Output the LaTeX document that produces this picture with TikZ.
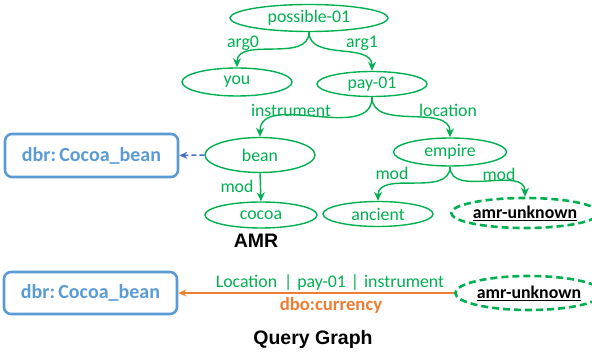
\documentclass[tikz,border=0pt]{standalone}
\usepackage{fontspec}
\setmainfont{Carlito}
\newfontfamily\arialfont{Liberation Sans}
\usetikzlibrary{shapes.geometric,arrows.meta}
\definecolor{amrgreen}{RGB}{0,176,80}
\definecolor{dbrblue}{RGB}{91,155,213}
\definecolor{linkblue}{RGB}{68,114,196}
\definecolor{qorange}{RGB}{237,125,49}
\tikzset{
  amrnode/.style={ellipse, draw=amrgreen, line width=1.4pt, text=amrgreen, inner sep=0pt,
    font=\fontsize{17.8}{20}\selectfont},
  unknownnode/.style={ellipse, draw=amrgreen, line width=2.6pt, dash pattern=on 7pt off 4pt,
    text=black, inner sep=0pt, font=\bfseries\fontsize{17.8}{20}\selectfont},
  dbrbox/.style={draw=dbrblue, rounded corners=7pt, line width=2.6pt, text=dbrblue,
    minimum width=173pt, minimum height=42pt, inner sep=0pt, font=\bfseries\fontsize{20}{23}\selectfont},
  edgelabel/.style={text=amrgreen, inner sep=0pt, font=\fontsize{17.8}{20}\selectfont},
  amredge/.style={draw=amrgreen, line width=1.4pt, -{Stealth[length=9pt,width=8pt]}},
  titlelabel/.style={font=\arialfont\bfseries\fontsize{19.5}{22}\selectfont, text=black, inner sep=0pt}
}
\begin{document}
\begin{tikzpicture}[x=1pt,y=1pt]
\useasboundingbox (0,0) rectangle (592,356);
% AMR nodes
\node[amrnode, minimum width=158pt, minimum height=27pt] (possible) at (309,338) {possible-01};
\node[amrnode, minimum width=110pt, minimum height=28pt] (you) at (237,274) {you};
\node[amrnode, minimum width=110pt, minimum height=25pt] (pay) at (372,272) {pay-01};
\node[amrnode, minimum width=110pt, minimum height=35pt] (bean) at (260,201) {bean};
\node[amrnode, minimum width=112pt, minimum height=26pt] (cocoa) at (261,141) {cocoa};
\node[amrnode, minimum width=113pt, minimum height=28pt] (empire) at (450,204) {empire};
\node[amrnode, minimum width=110pt, minimum height=25pt] (ancient) at (378,142) {ancient};
\node[unknownnode, minimum width=126pt, minimum height=30pt] (amrA) at (525,143) {\underline{amr-unknown}};
\node[dbrbox, minimum height=43pt] (dbrA) at (91.5,200.5) {dbr:\,Cocoa\_bean};
% AMR edges
\draw[amredge] (possible.south) to[out=-90,in=90] (you.north);
\draw[amredge] (possible.south) to[out=-90,in=90] (pay.north);
\draw[amredge] (pay.south) to[out=-90,in=90] (bean.north);
\draw[amredge] (pay.south) to[out=-90,in=90] (empire.north);
\draw[amredge] (bean.south) -- (cocoa.north);
\draw[amredge] (empire.south) to[out=-90,in=90] (ancient.north);
\draw[amredge] (empire.south) to[out=-90,in=90] (amrA.north);
\draw[linkblue, line width=1.5pt, dash pattern=on 5pt off 3pt, -{Stealth[length=8pt,width=7pt]}] (bean.west) -- (dbrA.east);
% edge labels
\node[edgelabel] (larg0) at (243,313) {arg0};
\node[edgelabel] (larg1) at (362,313) {arg1};
\node[edgelabel] (linstr) at (291,246) {instrument};
\node[edgelabel] (lloc) at (448,246) {location};
\node[edgelabel] (lmodA) at (237,170) {mod};
\node[edgelabel] (lmodB) at (392,183) {mod};
\node[edgelabel] (lmodC) at (499,182) {mod};
\node[titlelabel] (amrtitle) at (256,115) {AMR};
% Query graph
\node[dbrbox] (dbrB) at (90.5,63) {dbr:\,Cocoa\_bean};
\node[unknownnode, minimum width=124pt, minimum height=34pt] (amrB) at (529,63) {\underline{amr-unknown}};
\draw[qorange, line width=2pt, -{Stealth[length=8pt,width=7pt]}] (amrB.west) -- (dbrB.east);
\node[edgelabel] (lpath) at (330,73) {Location\hspace{7pt}|\hspace{5pt}pay-01\hspace{5pt}|\hspace{5pt}instrument};
\node[text=qorange, inner sep=0pt, font=\bfseries\fontsize{18.7}{21}\selectfont] (lcur) at (331,51) {dbo:currency};
\node[titlelabel] (qtitle) at (313,17) {Query Graph};
\end{tikzpicture}
\end{document}
